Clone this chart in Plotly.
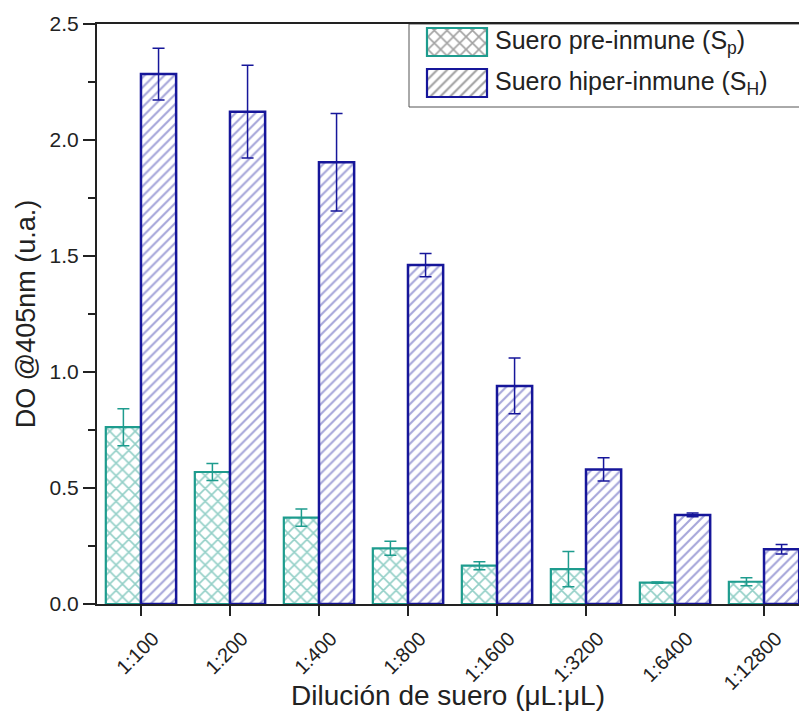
import plotly.graph_objects as go

categories = ["1:100", "1:200", "1:400", "1:800", "1:1600", "1:3200", "1:6400", "1:12800"]
pre_vals = [0.762, 0.569, 0.372, 0.240, 0.165, 0.150, 0.092, 0.096]
pre_err = [0.080, 0.037, 0.037, 0.030, 0.017, 0.076, 0.003, 0.017]
hyp_vals = [2.284, 2.122, 1.904, 1.461, 0.940, 0.580, 0.384, 0.236]
hyp_err = [0.112, 0.200, 0.210, 0.050, 0.120, 0.050, 0.008, 0.020]

legend_names = ["Suero pre-inmune (S<sub>p</sub>)", "Suero hiper-inmune (S<sub>H</sub>)"]

TEAL = "#1e9c8e"
TEAL_P = "#28a090"
NAVY = "#16169a"
NAVY_P = "#4c4cb4"
FONT = "Liberation Sans, Arial, sans-serif"

fig = go.Figure()
fig.add_trace(go.Bar(
    x=categories, y=pre_vals, name=legend_names[0], showlegend=False,
    marker=dict(color="white", line=dict(color=TEAL, width=2.2),
                pattern=dict(shape="x", fgcolor=TEAL_P, bgcolor="white", size=9, solidity=0.33)),
    error_y=dict(type="data", array=pre_err, color=TEAL, thickness=1.5, width=6),
))
fig.add_trace(go.Bar(
    x=categories, y=hyp_vals, name=legend_names[1], showlegend=False,
    marker=dict(color="white", line=dict(color=NAVY, width=2.5),
                pattern=dict(shape="/", fgcolor=NAVY_P, bgcolor="white", size=7, solidity=0.3)),
    error_y=dict(type="data", array=hyp_err, color=NAVY, thickness=1.5, width=6),
))

# custom legend swatches (pixel-like overlay axes)
fig.add_trace(go.Bar(
    orientation="h", xaxis="x2", yaxis="y2", showlegend=False, hoverinfo="skip",
    y=[42, 83], x=[60, 60], base=[427, 427], width=[28, 28],
    marker=dict(color=["white", "white"], line=dict(color=[TEAL, NAVY], width=2.2),
                pattern=dict(shape=["x", "/"], fgcolor=[TEAL_P, NAVY_P], bgcolor="white",
                             size=[9, 7], solidity=[0.33, 0.3])),
))

fig.update_layout(
    width=799, height=711,
    margin=dict(l=97, r=0, t=24, b=107, autoexpand=False),
    plot_bgcolor="white", paper_bgcolor="white",
    barmode="group", bargap=0.21, bargroupgap=0,
    font=dict(family=FONT, color="#222"),
    showlegend=False,
    xaxis=dict(
        type="category", range=[-0.494, 7.393], automargin=False,
        showline=True, linecolor="#222", linewidth=2, mirror=True,
        ticks="outside", ticklen=10, tickwidth=2, tickcolor="#222",
        tickangle=-45, tickfont=dict(size=20, family=FONT, color="#222"),
        ticklabelshift=12, ticklabelstandoff=3,
        title=dict(text="Dilución de suero (μL:μL)", font=dict(size=28, family=FONT, color="#222"), standoff=4),
        showgrid=False, zeroline=False,
    ),
    yaxis=dict(
        range=[0, 2.5], dtick=0.5, tickformat=".1f", automargin=False,
        showline=True, linecolor="#222", linewidth=2,
        ticks="outside", ticklen=12, tickwidth=2, tickcolor="#222",
        minor=dict(dtick=0.25, ticks="outside", ticklen=7, tickwidth=2, tickcolor="#222"),
        tickfont=dict(size=21, family=FONT, color="#222"),
        title=dict(text="DO @405nm (u.a.)", font=dict(size=27, family=FONT, color="#222"), standoff=6),
        showgrid=False, zeroline=False,
    ),
    xaxis2=dict(overlaying="x", anchor="y2", range=[97, 799], visible=False),
    yaxis2=dict(overlaying="y", anchor="x2", range=[604, 24], visible=False),
    shapes=[dict(type="rect", xref="x2", yref="y2", x0=409, x1=820, y0=24, y1=107,
                 line=dict(color="#555", width=1), fillcolor="white", layer="below")],
    annotations=[
        dict(xref="x2", yref="y2", x=493, y=42, text=legend_names[0], showarrow=False,
             xanchor="left", yanchor="middle", font=dict(size=25, family=FONT, color="#222")),
        dict(xref="x2", yref="y2", x=493, y=83, text=legend_names[1], showarrow=False,
             xanchor="left", yanchor="middle", font=dict(size=25, family=FONT, color="#222")),
    ],
)

fig.write_html("out.html")
